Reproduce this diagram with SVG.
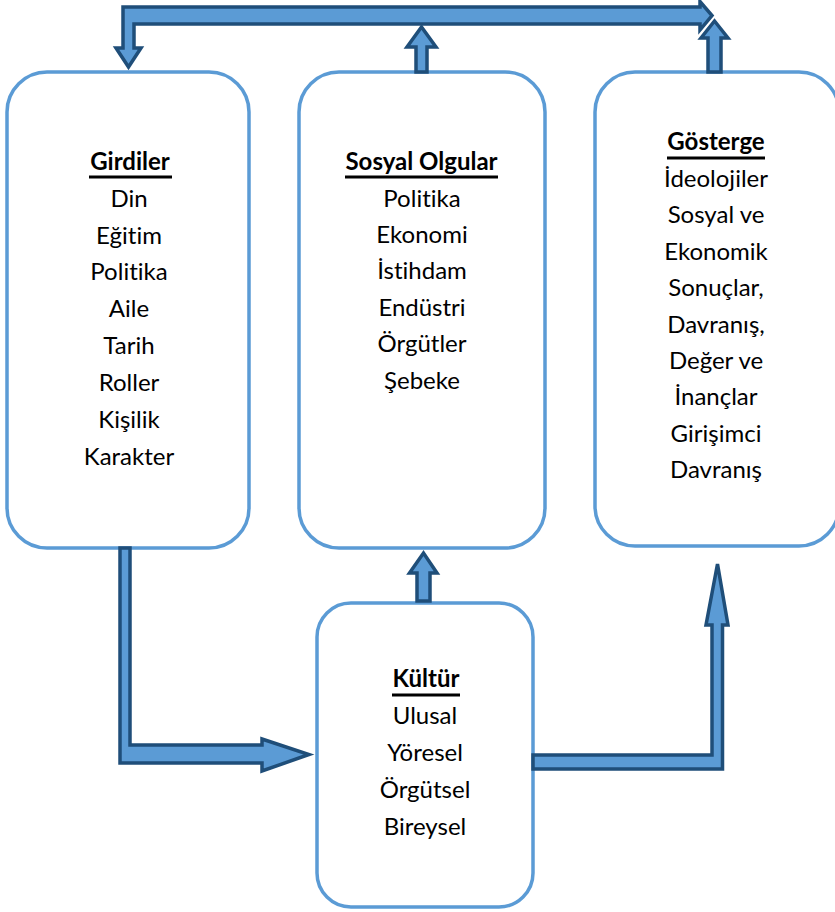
<svg xmlns="http://www.w3.org/2000/svg" width="835" height="912" viewBox="0 0 835 912">
<style>
.box{fill:#fff;stroke:#5B9BD5;stroke-width:3.5}
.arr{fill:#5B9BD5;stroke:#1F4E79;stroke-width:3.5;stroke-linejoin:miter}
.ul{stroke:#000;stroke-width:3}
text{font-family:Lato,"Liberation Sans",sans-serif;font-size:24px;fill:#000;text-anchor:middle;font-variant-ligatures:none;font-feature-settings:"liga" 0}
.t{font-weight:bold}
</style>
<rect width="835" height="912" fill="#fff"/>
<g id="girdiler">
<rect class="box" x="7" y="72" width="242" height="476" rx="40"/>
<text class="t" x="130" y="170">Girdiler</text>
<line class="ul" x1="89" y1="177" x2="172" y2="177"/>
<text x="129" y="207">Din</text>
<text x="129" y="244">Eğitim</text>
<text x="129" y="280">Politika</text>
<text x="129" y="317">Aile</text>
<text x="129" y="354">Tarih</text>
<text x="129" y="391">Roller</text>
<text x="129" y="428">Kişilik</text>
<text x="129" y="465">Karakter</text>
</g>
<g id="sosyal">
<rect class="box" x="299" y="72" width="246" height="476" rx="40"/>
<text class="t" x="421.5" y="170">Sosyal Olgular</text>
<line class="ul" x1="345" y1="177" x2="498" y2="177"/>
<text x="422" y="207">Politika</text>
<text x="422" y="243">Ekonomi</text>
<text x="422" y="279">İstihdam</text>
<text x="422" y="316">Endüstri</text>
<text x="422" y="352">Örgütler</text>
<text x="422" y="389">Şebeke</text>
</g>
<g id="gosterge">
<rect class="box" x="595" y="72" width="244" height="474" rx="40"/>
<text class="t" x="716" y="150">Gösterge</text>
<line class="ul" x1="667" y1="158" x2="765" y2="158"/>
<text x="716" y="187">İdeolojiler</text>
<text x="716" y="223">Sosyal ve</text>
<text x="716" y="260">Ekonomik</text>
<text x="716" y="296">Sonuçlar,</text>
<text x="716" y="333">Davranış,</text>
<text x="716" y="369">Değer ve</text>
<text x="716" y="405">İnançlar</text>
<text x="716" y="442">Girişimci</text>
<text x="716" y="478">Davranış</text>
</g>
<g id="kultur">
<rect class="box" x="317" y="603" width="216" height="304" rx="34"/>
<text class="t" x="426" y="687">Kültür</text>
<line class="ul" x1="392" y1="695" x2="460" y2="695"/>
<text x="425" y="724">Ulusal</text>
<text x="425" y="761">Yöresel</text>
<text x="425" y="798">Örgütsel</text>
<text x="425" y="835">Bireysel</text>
</g>
<g id="connectors">
<polygon class="arr" points="123,48 116,48 128.5,67 141,48 134,48 134,24 700,24 700,30 712,15.5 700,1.5 700,7 123,7"/>
<polygon class="arr" points="416,72 416,47 407,47 421.5,27 436,47 427,47 427,72"/>
<polygon class="arr" points="708,72 708,38 701,38 714.5,21 728,38 721,38 721,72"/>
<polygon class="arr" points="417,601 417,573 409.5,573 423.5,553 437,573 430,573 430,601"/>
<polygon class="arr" points="120,548 130,548 130,745 262,745 262,739 309,754.5 262,771 262,763 120,763"/>
<polygon class="arr" points="533,755 712,755 712,625 706,625 717.5,564 728,625 722.5,625 722.5,769 533,769"/>
</g>
</svg>
